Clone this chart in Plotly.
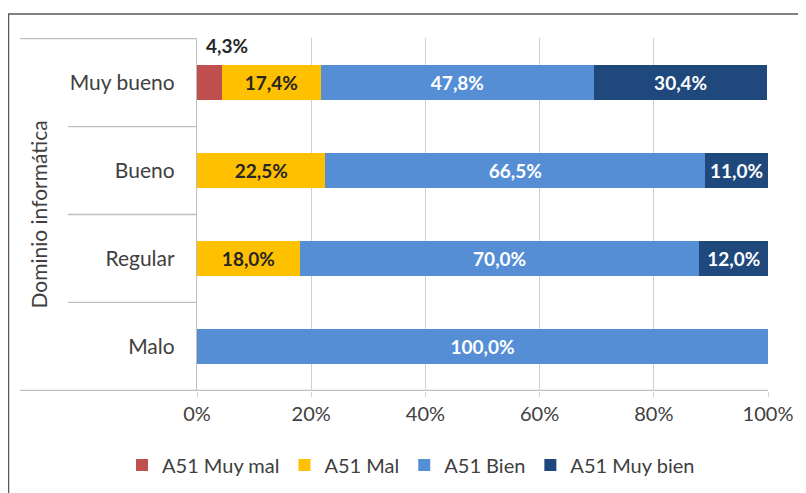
import plotly.graph_objects as go

categories = ["Muy bueno", "Bueno", "Regular", "Malo"]
series_names = ["A51 Muy mal", "A51 Mal", "A51 Bien", "A51 Muy bien"]
muy_mal = [4.3, 0, 0, 0]
mal = [17.4, 22.5, 18.0, 0]
bien = [47.8, 66.5, 70.0, 100.0]
muy_bien = [30.4, 11.0, 12.0, 0]
x_ticks = [0, 20, 40, 60, 80, 100]
x_tick_labels = ["0%", "20%", "40%", "60%", "80%", "100%"]
y_title = "Dominio informática"

colors = ["#C0504D", "#FFC000", "#558ED5", "#1F497D"]
label_colors = ["#262626", "#262626", "#FFFFFF", "#FFFFFF"]
FONT = "Lato, 'Open Sans', sans-serif"
TXT = "#404040"


def fmt(v):
    return f"{v:.1f}%".replace(".", ",")


fig = go.Figure()
all_series = [muy_mal, mal, bien, muy_bien]
for i, (name, vals) in enumerate(zip(series_names, all_series)):
    texts = ["" if (v == 0 or i == 0) else fmt(v) for v in vals]
    fig.add_trace(go.Bar(
        y=categories, x=vals, name=name, orientation="h",
        marker=dict(color=colors[i], line=dict(width=0)),
        text=texts, textposition="inside", insidetextanchor="middle",
        textangle=0,
        textfont=dict(family=FONT, size=19, color=label_colors[i], weight="bold"),
        constraintext="none",
        hoverinfo="x+y+name",
    ))

# outside label for the small "Muy mal" segment
for cat, v in zip(categories, muy_mal):
    if v > 0:
        fig.add_annotation(x=v / 2, y=cat, xref="x", yref="y", text=fmt(v),
                           showarrow=False, xanchor="center", yanchor="middle",
                           xshift=18, yshift=37,
                           font=dict(family=FONT, size=19, color="#262626", weight="bold"))

# Page body has an 8px margin, so the figure is laid out 8px smaller.
W, H = 798, 485
L, R, T, B = 189, 38, 30, 102
pw, ph = W - L - R, H - T - B


def px_x(px):  # reference pixel -> paper x
    return (px - 197) / pw


def px_y(py):  # reference pixel -> paper y
    return (391 - py) / ph


shapes = []
sep_color = "#BFBFBF"
n = len(categories)
for k in range(n + 1):
    yv = k - 0.5
    x0 = px_x(20) if k in (0, n) else px_x(68)
    x1 = 1 if k == n else 0
    shapes.append(dict(type="line", xref="paper", yref="y", x0=x0, x1=x1,
                       y0=yv, y1=yv, line=dict(color=sep_color, width=1.3), layer="below"))
# chart frame (top and left edges)
frame = "#595959"
shapes.append(dict(type="line", xref="paper", yref="paper", x0=px_x(8), x1=px_x(806),
                   y0=px_y(14), y1=px_y(14), line=dict(color=frame, width=1.5)))
shapes.append(dict(type="line", xref="paper", yref="paper", x0=px_x(8.5), x1=px_x(8.5),
                   y0=px_y(14), y1=px_y(493), line=dict(color=frame, width=1.5)))

fig.add_annotation(x=px_x(38), y=0.5, xref="paper", yref="paper", text=y_title,
                   textangle=-90, showarrow=False, xanchor="center", yanchor="middle",
                   font=dict(family=FONT, size=21, color=TXT))

fig.update_layout(
    width=W, height=H,
    margin=dict(l=L, r=R, t=T, b=B, pad=0, autoexpand=False),
    barmode="stack", bargap=0.6,
    paper_bgcolor="white", plot_bgcolor="white",
    font=dict(family=FONT, size=20, color=TXT),
    shapes=shapes,
    showlegend=True,
    legend=dict(orientation="h", xref="paper", yref="paper",
                x=px_x(122), y=px_y(465), xanchor="left", yanchor="middle",
                font=dict(family=FONT, size=20, color=TXT),
                itemwidth=30, tracegroupgap=0, traceorder="normal"),
    xaxis=dict(range=[0, 100], tickvals=x_ticks, ticktext=x_tick_labels,
               showgrid=True, gridcolor="#D0D0D0", gridwidth=1.3,
               zeroline=False, showline=False,
               ticks="outside", ticklen=5, tickcolor="#D0D0D0", tickwidth=1.3,
               tickfont=dict(family=FONT, size=20, color=TXT)),
    yaxis=dict(categoryorder="array", categoryarray=categories, autorange="reversed",
               showline=True, linecolor="#BFBFBF", linewidth=1.3, showgrid=False,
               ticks="", ticklabelstandoff=17,
               tickfont=dict(family=FONT, size=21, color=TXT)),
)

fig.write_html("out.html")
